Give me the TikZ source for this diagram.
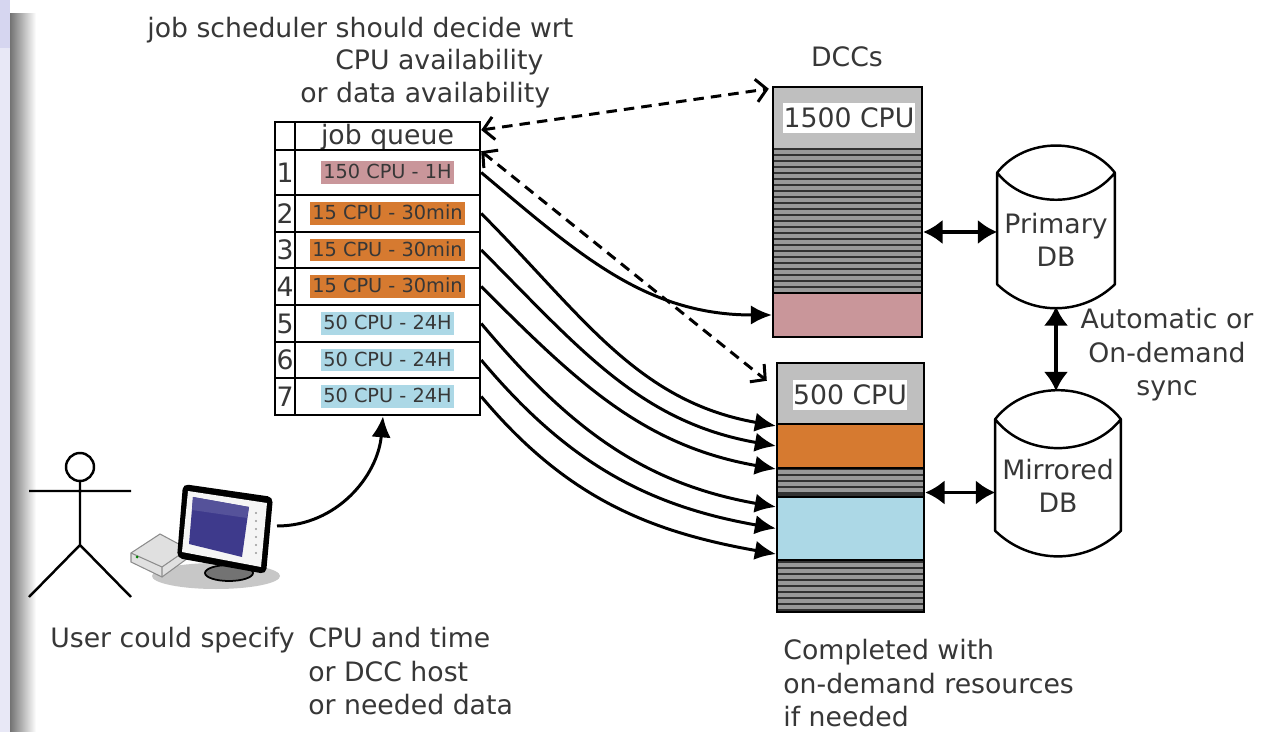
\documentclass[tikz,border=0pt]{standalone}
\usepackage{fontspec}
\setmainfont{DejaVu Sans}
\usetikzlibrary{arrows.meta}

\definecolor{pinkjob}{RGB}{201,150,154}
\definecolor{orangejob}{RGB}{214,122,48}
\definecolor{bluejob}{RGB}{172,216,230}
\definecolor{screenblue}{RGB}{62,58,140}
\definecolor{slidestrip}{RGB}{232,232,246}
\definecolor{slidetop}{RGB}{214,214,240}
\definecolor{txtgray}{RGB}{55,55,55}
\definecolor{darkband}{RGB}{50,50,50}

% drum outline around a (borderless) database node
\newcommand\dbdrum[1]{%
  \draw[line width=1.4pt,line join=round] ([yshift=-0.56cm]#1.north west) to[bend left=52] ([yshift=-0.56cm]#1.north east)
    to[bend left=52] ([yshift=-0.56cm]#1.north west) -- ([yshift=0.44cm]#1.south west)
    to[bend right=44] ([yshift=0.44cm]#1.south east) -- ([yshift=-0.56cm]#1.north east);}

\begin{document}
\begin{tikzpicture}[x=0.02cm,y=0.02cm,>={Latex[length=12pt,width=11pt]},
  lbl/.style={font=\fontsize{15.2}{19}\selectfont,text=txtgray,inner sep=0pt},
  small/.style={font=\fontsize{11}{13}\selectfont,text=txtgray,inner xsep=1.5pt,inner ysep=1.5pt,text height=8.5pt,text depth=1.5pt},
  cell/.style={draw,line width=1.4pt,inner sep=0pt},
  region/.style={draw,line width=1.2pt,inner sep=0pt,minimum width=#1},
  cpulabel/.style={lbl,fill=white,minimum height=0.6cm},
  db/.style={inner sep=0pt,minimum height=3.22cm},
  job/.style={->,line width=1.7pt},
  query/.style={{Straight Barb[length=6pt,width=13pt]}-{Straight Barb[length=6pt,width=13pt]},dash pattern=on 6pt off 4pt,line width=1.7pt},
  sync/.style={{Latex[length=11pt,width=14pt]}-{Latex[length=11pt,width=14pt]},line width=2pt}]

\fill[white] (0,0) rectangle (1280,-732);
\useasboundingbox (0,0) rectangle (1280,-732);

% slide edge
\fill[slidestrip] (0,0) rectangle (10,-732);
\fill[slidetop] (0,0) rectangle (10,-48);
\shade[left color=black!55,right color=white] (10,-14) rectangle (36,-732);

% scheduler remark
\node[lbl,anchor=base west] (sched) at (147,-38) {job scheduler should decide wrt};
\node[lbl,anchor=base west] (cpuav) at (335,-70) {CPU availability};
\node[lbl,anchor=base west] (dataav) at (300,-103) {or data availability};

% job queue
\node[cell,minimum width=4.1cm,minimum height=0.56cm] (qhead) at (377.5,-136) {};
\node[cell,minimum width=0.4cm,minimum height=0.56cm] (nhead) at (285,-136) {};
\node[lbl,anchor=base] (qtitle) at (387.5,-145) {job queue};
\foreach \n/\t/\b/\job/\col in {1/150/195/150 CPU - 1H/pinkjob,
    2/195/232/15 CPU - 30min/orangejob,3/232/268/15 CPU - 30min/orangejob,
    4/268/305/15 CPU - 30min/orangejob,5/305/342/50 CPU - 24H/bluejob,
    6/342/378/50 CPU - 24H/bluejob,7/378/415/50 CPU - 24H/bluejob}{
  \pgfmathsetmacro\h{(\b-\t)*0.02}
  \pgfmathsetmacro\c{-(\t+\b)/2}
  \node[cell,minimum width=4.1cm,minimum height=\h cm] (q\n) at (377.5,\c) {};
  \node[cell,minimum width=0.4cm,minimum height=\h cm] (n\n) at (285,\c) {};
  \node[lbl] (d\n) at (285,\c) {\n};
  \node[small,fill=\col] (j\n) at (387.5,\c) {\job};
}

% DCC with 1500 CPU
\node[lbl] (dccs) at (847,-57) {DCCs};
\fill[black!25] (773,-87) rectangle (922,-148);
\fill[darkband] (773,-148) rectangle (922,-293);
\foreach \s in {152,158,...,290}
  \draw[black!40,line width=2.2pt] (773,-\s) -- (922,-\s);
\node[region=2.98cm,fill=pinkjob,minimum height=0.88cm] (p1500) at (847.5,-315) {};
\node[cpulabel,minimum width=2.64cm] (l1500) at (849,-118) {1500 CPU};
\node[draw,line width=1.4pt,minimum width=2.98cm,minimum height=5cm] (dcc1) at (847.5,-212) {};

% DCC with 500 CPU
\fill[black!25] (777,-363) rectangle (924,-424);
\fill[darkband] (777,-468) rectangle (924,-497);
\fill[darkband] (777,-560) rectangle (924,-612);
\foreach \s in {472,478,...,494}
  \draw[black!40,line width=2.2pt] (777,-\s) -- (924,-\s);
\foreach \s in {565,571,...,608}
  \draw[black!40,line width=2.2pt] (777,-\s) -- (924,-\s);
\node[region=2.94cm,fill=orangejob,minimum height=0.88cm] (o500) at (850.5,-446) {};
\node[region=2.94cm,fill=bluejob,minimum height=1.26cm] (b500) at (850.5,-528.5) {};
\node[cpulabel,minimum width=2.28cm] (l500) at (850,-395) {500 CPU};
\node[draw,line width=1.4pt,minimum width=2.94cm,minimum height=4.98cm] (dcc2) at (850.5,-487.5) {};

% databases
\node[db,minimum width=2.34cm] (primary) at (1056,-225.5) {};
\dbdrum{primary}
\node[lbl,align=center] (ptext) at (1056,-240) {Primary\\DB};
\node[db,minimum width=2.5cm] (mirrored) at (1058,-472) {};
\dbdrum{mirrored}
\node[lbl,align=center] (mtext) at (1058,-486) {Mirrored\\DB};
\node[lbl,anchor=north,align=center] (syncnote) at (1167,-308) {Automatic or\\On-demand\\sync};

\coordinate (s1) at ([yshift=-0.4cm]dcc1.east);
\coordinate (s2) at ([yshift=-0.1cm]dcc2.east);
\draw[sync] (s1) -- (s1 -| primary.west);
\draw[sync] (s2) -- (s2 -| mirrored.west);
\draw[sync] (primary.south) -- (primary.south |- mirrored.north);

% scheduler queries
\draw[query] ([yshift=0.12cm]qhead.east) -- ([shift={(-0.06cm,-0.06cm)}]dcc1.north west);
\draw[query] (qhead.south east) -- ([shift={(-0.18cm,-0.38cm)}]dcc2.north west);

% jobs dispatched
\draw[job] (q1.east) to[out=-40,in=180] (p1500.west);
\draw[job] (q2.east) to[out=-45,in=170] ([yshift=-0.06cm]o500.north west);
\draw[job] (q3.east) to[out=-45,in=170] (o500.west);
\draw[job] (q4.east) to[out=-45,in=170] (o500.south west);
\draw[job] (q5.east) to[out=-50,in=170] ([yshift=-0.22cm]b500.north west);
\draw[job] (q6.east) to[out=-50,in=170] (b500.west);
\draw[job] (q7.east) to[out=-50,in=170] ([yshift=0.14cm]b500.south west);

% user and workstation
\draw[line width=1.4pt] (80,-467) circle [radius=14];
\draw[line width=1.4pt] (80,-481) -- (80,-545) (29,-491) -- (131,-491)
  (29,-597) -- (80,-545) -- (131,-597);
\fill[black!22] (216,-576) ellipse [x radius=64, y radius=13];
\filldraw[fill=black!12,draw=black!45,line width=0.6pt]
  (131,-553) -- (160,-534) -- (188,-549) -- (188,-558) -- (162,-577) -- (131,-562) -- cycle;
\draw[black!45,line width=0.6pt] (131,-553) -- (162,-567) -- (188,-549) (162,-567) -- (162,-577);
\fill[green!50!black] (137,-557) circle [radius=1.5];
\filldraw[fill=black!55,draw=black,line width=1pt] (229,-573) ellipse [x radius=24, y radius=8];
\fill[black,rounded corners=3pt] (183,-484) -- (273,-497) -- (266,-574) -- (177,-558) -- cycle;
\fill[black!4] (188,-491) -- (267,-503) -- (261,-567) -- (182,-552) -- cycle;
\fill[screenblue] (193,-497) -- (249,-507) -- (242,-557) -- (189,-544) -- cycle;
\fill[screenblue!88!white] (193,-497) -- (249,-507) -- (247,-518) -- (192,-510) -- cycle;
\foreach \s in {513,521,...,553}
  \fill[black!40] (256,-\s) circle [radius=1.2];
\coordinate (pc) at (277,-526);
\draw[job] (pc) to[out=0,in=-95] ([xshift=0.11cm]q7.south);

% notes
\node[lbl,anchor=base west] (user) at (50,-647) {User could specify};
\node[lbl,anchor=north west,align=left] (spec) at (308,-627) {CPU and time\\or DCC host\\or needed data};
\node[lbl,anchor=north west,align=left] (ondemand) at (783,-639) {Completed with\\on-demand resources\\if needed};
\end{tikzpicture}
\end{document}
